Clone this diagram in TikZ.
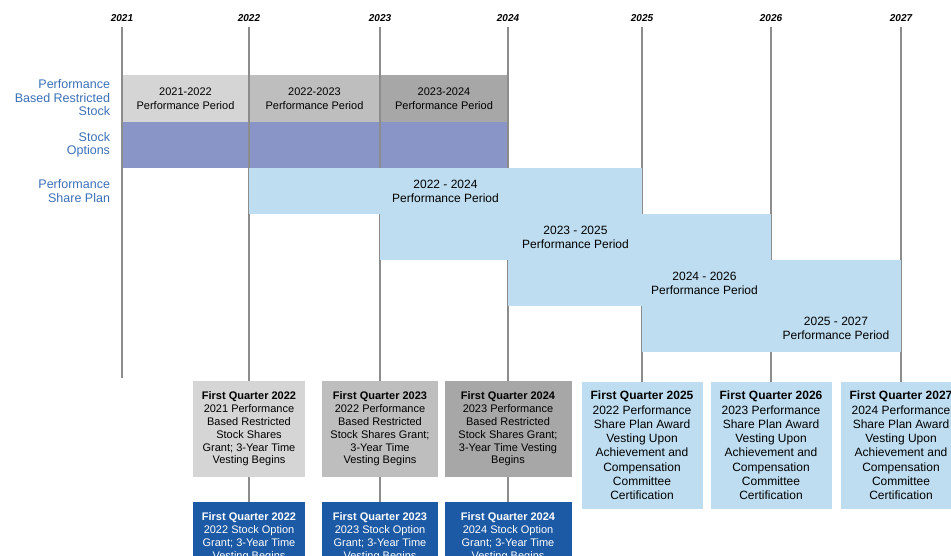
\documentclass[tikz,border=0pt]{standalone}
\usepackage{fontspec}
\setmainfont{Liberation Sans}
\usetikzlibrary{positioning}

\definecolor{rsone}{HTML}{D5D5D5}
\definecolor{rstwo}{HTML}{BEBEBE}
\definecolor{rsthree}{HTML}{A7A7A7}
\definecolor{optfill}{HTML}{8A95C7}
\definecolor{pspfill}{HTML}{BEDDF0}
\definecolor{labelblue}{HTML}{3B6FB6}
\definecolor{optbox}{HTML}{1C5AA5}
\definecolor{linegray}{HTML}{8C8C8C}

\begin{document}
\begin{tikzpicture}[
  x=1pt, y=-1pt,
  every node/.style={inner sep=0pt, outer sep=0pt},
  year/.style={font=\fontsize{10}{12}\selectfont\bfseries\itshape},
  rowlabel/.style={anchor=east, align=right, text=labelblue, font=\fontsize{12.5}{13.5}\selectfont},
  rsbar/.style={minimum height=47pt, align=center, font=\fontsize{11}{14}\selectfont},
  pspbar/.style={fill=pspfill, minimum height=46pt, align=center, font=\fontsize{12}{14}\selectfont},
  rsbox/.style={anchor=north, minimum height=96pt, align=center, font=\fontsize{11}{12.8}\selectfont},
  optbox/.style={anchor=north, fill=optbox, text=white, minimum height=70pt, align=center, font=\fontsize{11}{13}\selectfont},
  pspbox/.style={anchor=north, fill=pspfill, minimum width=121pt, minimum height=127pt, align=center, font=\fontsize{12}{14.3}\selectfont},
  timeline/.style={draw=linegray, line width=1.6pt}
]
\clip (0,0) rectangle (951,555);

% YEARS
\node[year] (y2021) at (122,18) {2021};
\node[year] (y2022) at (249,18) {2022};
\node[year] (y2023) at (380,18) {2023};
\node[year] (y2024) at (508,18) {2024};
\node[year] (y2025) at (642,18) {2025};
\node[year] (y2026) at (771,18) {2026};
\node[year] (y2027) at (901,18) {2027};

% ROW LABELS
\node[rowlabel] (lrs) at (110,98) {Performance\\Based Restricted\\Stock};
\node[rowlabel] (lso) at (110,145) {Stock\\Options};
\node[rowlabel] (lpsp) at (110,191) {Performance\\Share Plan};

% ROW 1 + 2: restricted stock and options
\node[rsbar, fill=rsone, minimum width=127pt] (rs21) at (185.5,98.5) {2021-2022\\Performance Period};
\node[rsbar, fill=rstwo, minimum width=131pt] (rs22) at (314.5,98.5) {2022-2023\\Performance Period};
\node[rsbar, fill=rsthree, minimum width=128pt] (rs23) at (444,98.5) {2023-2024\\Performance Period};
\node[fill=optfill, minimum width=386pt, minimum height=46pt] (opt) at (315,145) {};

% GRANT BOXES
\node[rsbox, fill=rsone, minimum width=112pt] (rsg22) at (249,381)
  {\textbf{First Quarter 2022}\\2021 Performance\\Based Restricted\\Stock Shares\\Grant; 3-Year Time\\Vesting Begins};
\node[rsbox, fill=rstwo, minimum width=116pt] (rsg23) at (380,381)
  {\textbf{First Quarter 2023}\\2022 Performance\\Based Restricted\\Stock Shares Grant;\\3-Year Time\\Vesting Begins};
\node[rsbox, fill=rsthree, minimum width=127pt] (rsg24) at (508,381)
  {\textbf{First Quarter 2024}\\2023 Performance\\Based Restricted\\Stock Shares Grant;\\3-Year Time Vesting\\Begins};

\node[optbox, minimum width=112pt] (sog22) at (249,502)
  {\textbf{First Quarter 2022}\\2022 Stock Option\\Grant; 3-Year Time\\Vesting Begins};
\node[optbox, minimum width=116pt] (sog23) at (380,502)
  {\textbf{First Quarter 2023}\\2023 Stock Option\\Grant; 3-Year Time\\Vesting Begins};
\node[optbox, minimum width=127pt] (sog24) at (508,502)
  {\textbf{First Quarter 2024}\\2024 Stock Option\\Grant; 3-Year Time\\Vesting Begins};

\node[pspbox] (psg25) at (642,382)
  {\textbf{First Quarter 2025}\\2022 Performance\\Share Plan Award\\Vesting Upon\\Achievement and\\Compensation\\Committee\\Certification};
\node[pspbox] (psg26) at (771,382)
  {\textbf{First Quarter 2026}\\2023 Performance\\Share Plan Award\\Vesting Upon\\Achievement and\\Compensation\\Committee\\Certification};
\node[pspbox] (psg27) at (901,382)
  {\textbf{First Quarter 2027}\\2024 Performance\\Share Plan Award\\Vesting Upon\\Achievement and\\Compensation\\Committee\\Certification};

% TIME LINES
\coordinate (end21) at (122,378);
\draw[timeline, shorten <=5pt] (y2021.south) -- (end21);
\draw[timeline, shorten <=5pt] (y2022.south) -- (rsg22.north);
\draw[timeline, shorten <=5pt] (y2023.south) -- (rsg23.north);
\draw[timeline, shorten <=5pt] (y2024.south) -- (rsg24.north);
\draw[timeline, shorten <=5pt] (y2025.south) -- (psg25.north);
\draw[timeline, shorten <=5pt] (y2026.south) -- (psg26.north);
\draw[timeline, shorten <=5pt] (y2027.south) -- (psg27.north);
\draw[timeline] (rsg22.south) -- (sog22.north);
\draw[timeline] (rsg23.south) -- (sog23.north);
\draw[timeline] (rsg24.south) -- (sog24.north);

% ROW 3: performance share plan
\node[pspbar, minimum width=393pt] (psp22) at (445.5,191) {2022 - 2024\\Performance Period};
\node[pspbar, minimum width=391pt] (psp23) at (575.5,237) {2023 - 2025\\Performance Period};
\node[pspbar, minimum width=393pt] (psp24) at (704.5,283) {2024 - 2026\\Performance Period};
\node[pspbar, minimum width=259pt] (psp25) at (771.5,329) {};
\node[align=center, font=\fontsize{12}{14}\selectfont] (psp25t) at (836,328) {2025 - 2027\\Performance Period};

\end{tikzpicture}
\end{document}
